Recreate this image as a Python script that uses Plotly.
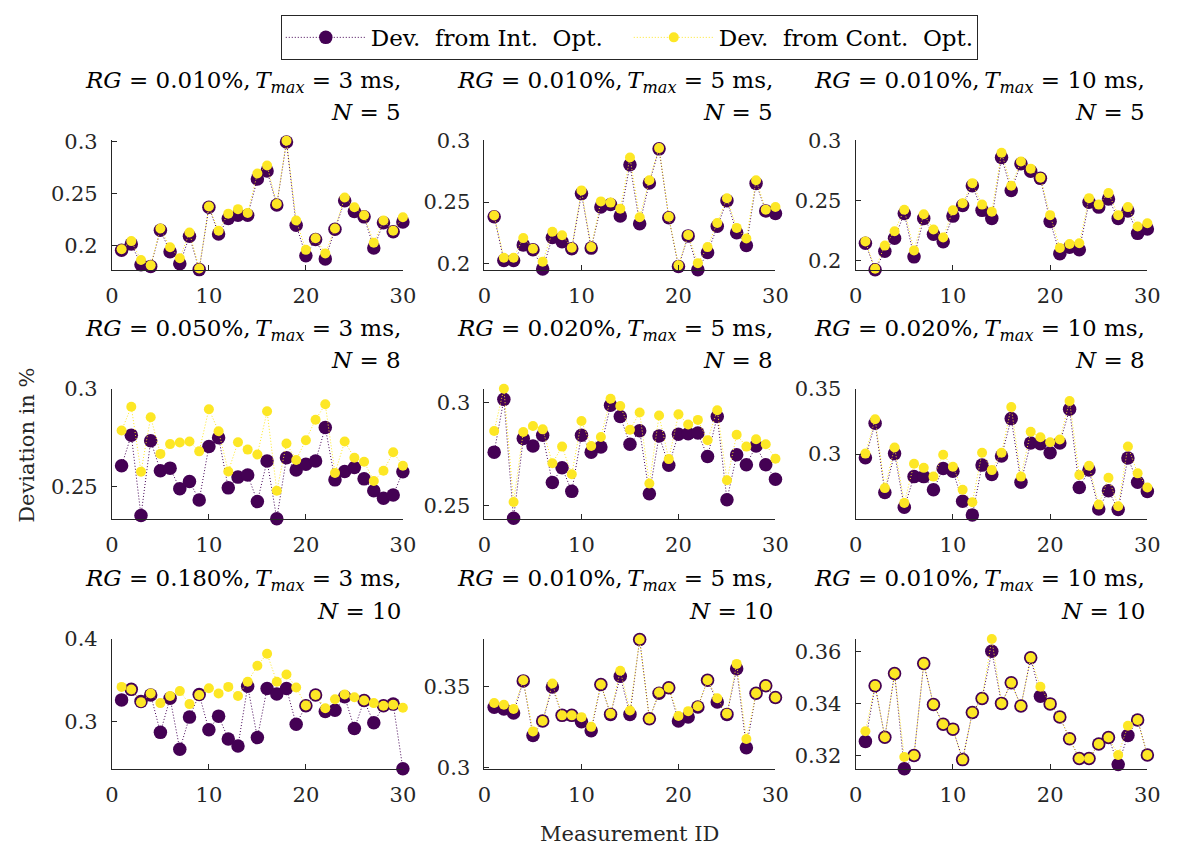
import plotly.graph_objects as go

W, H = 1181, 862

ids = list(range(1, 31))

# ---- data: deviation from integer optimum (Int) and continuous optimum (Cont) ----
int_1 = [0.196, 0.202, 0.182, 0.1804, 0.2152, 0.1944, 0.1829, 0.2093, 0.1773, 0.2373,
         0.2115, 0.2264, 0.2295, 0.2295, 0.2643, 0.272, 0.2394, 0.300, 0.2199, 0.1907,
         0.2062, 0.1876, 0.2161, 0.2435, 0.2332, 0.228, 0.1981, 0.2224, 0.2137, 0.223]
cont_1 = [0.1969, 0.2047, 0.1866, 0.1814, 0.2168, 0.1988, 0.1882, 0.213, 0.1783, 0.2379,
          0.2146, 0.2311, 0.2354, 0.2317, 0.2696, 0.2773, 0.2404, 0.3012, 0.2245, 0.1963,
          0.2075, 0.1929, 0.2168, 0.2466, 0.2373, 0.2295, 0.2031, 0.2245, 0.2146, 0.2276]

int_2 = [0.2382, 0.2026, 0.2026, 0.2153, 0.2114, 0.1958, 0.2213, 0.2179, 0.2122, 0.2569,
         0.2127, 0.246, 0.2481, 0.2387, 0.2803, 0.2325, 0.2655, 0.2932, 0.2374, 0.1977,
         0.2226, 0.1951, 0.2091, 0.2304, 0.2512, 0.2252, 0.2148, 0.2652, 0.2429, 0.2408]
cont_2 = [0.2392, 0.2049, 0.2049, 0.2208, 0.2122, 0.2016, 0.226, 0.2231, 0.213, 0.2595,
          0.2135, 0.2506, 0.2496, 0.2447, 0.2862, 0.2377, 0.2678, 0.2938, 0.2382, 0.1987,
          0.2234, 0.2005, 0.2135, 0.233, 0.2532, 0.2291, 0.2205, 0.2678, 0.2439, 0.246]

int_3 = [0.2142, 0.1922, 0.2075, 0.2184, 0.239, 0.2029, 0.235, 0.2217, 0.2155, 0.2369,
         0.2457, 0.2623, 0.2417, 0.235, 0.2858, 0.2583, 0.2805, 0.2743, 0.2684, 0.2324,
         0.2056, 0.211, 0.2088, 0.2484, 0.2444, 0.2511, 0.235, 0.2412, 0.2225, 0.2262]
cont_3 = [0.2158, 0.193, 0.2123, 0.2243, 0.2422, 0.2083, 0.2385, 0.2257, 0.219, 0.2417,
          0.2476, 0.2644, 0.2465, 0.2406, 0.2898, 0.2623, 0.2824, 0.2765, 0.269, 0.2377,
          0.2104, 0.2136, 0.2142, 0.2519, 0.2465, 0.2561, 0.2377, 0.2444, 0.2283, 0.231]

int_4 = [0.2605, 0.2762, 0.235, 0.2733, 0.258, 0.2593, 0.2488, 0.2525, 0.243, 0.2704,
         0.2749, 0.2492, 0.2547, 0.2558, 0.2422, 0.263, 0.2334, 0.2646, 0.2583, 0.2613,
         0.263, 0.2801, 0.2533, 0.2576, 0.2596, 0.2538, 0.2477, 0.2439, 0.2455, 0.2575]
cont_4 = [0.2786, 0.2907, 0.2575, 0.2854, 0.2666, 0.2716, 0.2724, 0.2729, 0.2679, 0.2895,
          0.2782, 0.2576, 0.2726, 0.2688, 0.2663, 0.2884, 0.2477, 0.2719, 0.2635, 0.2736,
          0.2841, 0.292, 0.2568, 0.2729, 0.2646, 0.2626, 0.2527, 0.258, 0.2674, 0.2605]

int_5 = [0.2759, 0.3016, 0.2437, 0.2825, 0.2789, 0.2841, 0.2611, 0.2683, 0.2568, 0.2841,
         0.2759, 0.2784, 0.2987, 0.2933, 0.2797, 0.2863, 0.2556, 0.2838, 0.2695, 0.2846,
         0.2849, 0.2852, 0.2738, 0.2933, 0.2527, 0.2746, 0.2698, 0.2789, 0.2698, 0.2627]
cont_5 = [0.2862, 0.3068, 0.2516, 0.2857, 0.2886, 0.287, 0.2705, 0.2786, 0.2651, 0.2911,
          0.2789, 0.2833, 0.3019, 0.2984, 0.2868, 0.2952, 0.2606, 0.2937, 0.2725, 0.2943,
          0.2894, 0.2916, 0.2817, 0.2963, 0.2622, 0.2844, 0.2786, 0.2822, 0.2797, 0.2727]

int_6 = [0.2972, 0.3236, 0.2706, 0.3003, 0.2593, 0.2827, 0.2827, 0.2726, 0.2889, 0.2869,
         0.2638, 0.2533, 0.2915, 0.2844, 0.2985, 0.3271, 0.2784, 0.3085, 0.3078, 0.301,
         0.3085, 0.3342, 0.2744, 0.2877, 0.258, 0.2719, 0.2575, 0.297, 0.2784, 0.2714]
cont_6 = [0.3003, 0.3266, 0.2739, 0.305, 0.2626, 0.2925, 0.2894, 0.2827, 0.2995, 0.2902,
          0.2726, 0.2631, 0.301, 0.2877, 0.301, 0.3359, 0.2827, 0.3171, 0.3128, 0.309,
          0.3111, 0.3405, 0.2839, 0.291, 0.2613, 0.2819, 0.26, 0.3058, 0.2852, 0.2744]

int_7 = [0.3263, 0.339, 0.3245, 0.3322, 0.2871, 0.3282, 0.2667, 0.3055, 0.3329, 0.2902,
         0.3067, 0.2792, 0.2706, 0.3427, 0.2808, 0.340, 0.3333, 0.340, 0.2969, 0.3192,
         0.3322, 0.3122, 0.3137, 0.3302, 0.2918, 0.3255, 0.2988, 0.3192, 0.3212, 0.2431]
cont_7 = [0.342, 0.3388, 0.3235, 0.3341, 0.3224, 0.331, 0.3369, 0.3212, 0.3322, 0.3404,
          0.3341, 0.342, 0.331, 0.3482, 0.3675, 0.382, 0.3482, 0.3569, 0.3412, 0.3196,
          0.3322, 0.3161, 0.3271, 0.3329, 0.3294, 0.3255, 0.3224, 0.3192, 0.3204, 0.3169]

int_8 = [0.3373, 0.3363, 0.3337, 0.3536, 0.3198, 0.3288, 0.3498, 0.3323, 0.3323, 0.3284,
         0.3228, 0.3514, 0.3329, 0.3565, 0.3329, 0.3792, 0.3302, 0.346, 0.3494, 0.3288,
         0.3313, 0.3375, 0.354, 0.3405, 0.3329, 0.3611, 0.3123, 0.346, 0.3506, 0.3433]
cont_8 = [0.3399, 0.3389, 0.3363, 0.354, 0.3224, 0.3288, 0.352, 0.3323, 0.3323, 0.3312,
          0.3252, 0.3514, 0.3333, 0.3599, 0.3353, 0.3792, 0.3302, 0.3464, 0.3494, 0.3319,
          0.3349, 0.3379, 0.354, 0.3429, 0.3333, 0.3641, 0.3177, 0.346, 0.3506, 0.3433]

int_9 = [0.3254, 0.3468, 0.327, 0.3515, 0.3149, 0.320, 0.3553, 0.3396, 0.332, 0.3301,
         0.3184, 0.3365, 0.3419, 0.360, 0.340, 0.3479, 0.339, 0.3575, 0.3427, 0.3398,
         0.3348, 0.3264, 0.3188, 0.3188, 0.3244, 0.3269, 0.3165, 0.3277, 0.3336, 0.3202]
cont_9 = [0.3293, 0.3468, 0.327, 0.3515, 0.3194, 0.320, 0.3553, 0.3396, 0.332, 0.3301,
          0.3184, 0.3365, 0.3419, 0.3647, 0.340, 0.3479, 0.339, 0.3575, 0.3464, 0.3398,
          0.3348, 0.3264, 0.3188, 0.3188, 0.3244, 0.3269, 0.3202, 0.3314, 0.3336, 0.3202]

int_series = [int_1, int_2, int_3, int_4, int_5, int_6, int_7, int_8, int_9]
cont_series = [cont_1, cont_2, cont_3, cont_4, cont_5, cont_6, cont_7, cont_8, cont_9]

rg_labels = ["0.010", "0.010", "0.010", "0.050", "0.020", "0.020", "0.180", "0.010", "0.010"]
tmax_labels = ["3", "5", "10", "3", "5", "10", "3", "5", "10"]
n_labels = ["5", "5", "5", "8", "8", "8", "10", "10", "10"]

y_tickvals = [[0.2, 0.25, 0.3], [0.2, 0.25, 0.3], [0.2, 0.25, 0.3],
              [0.25, 0.3], [0.25, 0.3], [0.25, 0.3, 0.35],
              [0.3, 0.4], [0.3, 0.35], [0.32, 0.34, 0.36]]
y_ticktext = [["0.2", "0.25", "0.3"], ["0.2", "0.25", "0.3"], ["0.2", "0.25", "0.3"],
              ["0.25", "0.3"], ["0.25", "0.3"], ["0.25", "0.3", "0.35"],
              ["0.3", "0.4"], ["0.3", "0.35"], ["0.32", "0.34", "0.36"]]
y_ranges = [[0.1770, 0.3014], [0.1950, 0.3], [0.1920, 0.3],
            [0.2332, 0.3], [0.2433, 0.3068], [0.2502, 0.35],
            [0.2426, 0.4], [0.2990, 0.3796], [0.3147, 0.3648]]
x_tickvals = [0, 10, 20, 30]

legend_names = ["Dev.&nbsp; from Int.&nbsp; Opt.", "Dev.&nbsp; from Cont.&nbsp; Opt."]

# ---- styling ----
PURPLE = "#440154"
YELLOW = "#FDE725"
AXC = "#262626"
FONT = "DejaVu Serif"

col_px = [(106.7, 402.7), (485.7, 781.7), (863.3, 1160.0)]
row_px = [(132.0, 265.0), (387.0, 521.0), (644.0, 778.0)]

fig = go.Figure()

for k in range(9):
    r, c = divmod(k, 3)
    xa = "x" if k == 0 else f"x{k+1}"
    ya = "y" if k == 0 else f"y{k+1}"
    fig.add_trace(go.Scatter(
        x=ids, y=int_series[k], mode="lines+markers", xaxis=xa, yaxis=ya,
        name=legend_names[0], legendgroup="int", showlegend=(k == 0),
        line=dict(color=PURPLE, width=1, dash="1px,2px"),
        marker=dict(color=PURPLE, size=13.5, line=dict(width=0)),
        cliponaxis=False))
    fig.add_trace(go.Scatter(
        x=ids, y=cont_series[k], mode="lines+markers", xaxis=xa, yaxis=ya,
        name=legend_names[1], legendgroup="cont", showlegend=(k == 0),
        line=dict(color=YELLOW, width=1, dash="1px,2px"),
        marker=dict(color=YELLOW, size=10, line=dict(width=0)),
        cliponaxis=False))

    x0, x1 = col_px[c]
    y0, y1 = row_px[r]
    axis_common = dict(showline=True, linecolor=AXC, linewidth=1, ticks="inside",
                       ticklen=5, tickcolor=AXC, showgrid=False, zeroline=False,
                       tickfont=dict(family=FONT, size=21, color=AXC))
    fig.layout[("xaxis" if k == 0 else f"xaxis{k+1}")] = dict(
        domain=[x0 / W, x1 / W], anchor=ya, range=[0, 30],
        tickvals=x_tickvals, ticktext=[str(v) for v in x_tickvals],
        ticklabelstandoff=7, **axis_common)
    fig.layout[("yaxis" if k == 0 else f"yaxis{k+1}")] = dict(
        domain=[1 - y1 / H, 1 - y0 / H], anchor=xa, range=y_ranges[k],
        tickvals=y_tickvals[k], ticktext=y_ticktext[k], ticklabelstandoff=9,
        **axis_common)

    line1 = (f"<i>RG</i> = {rg_labels[k]}%,&#8201;<i>T</i><sub><i>max</i></sub> = "
             f"{tmax_labels[k]} ms,")
    line2 = f"<i>N</i> = {n_labels[k]}"
    fig.add_annotation(x=x1 / W, y=1 - (y0 - 60) / H, xref="paper", yref="paper",
                       xanchor="right", yanchor="middle", text=line1, showarrow=False,
                       font=dict(family=FONT, size=23, color="black"))
    fig.add_annotation(x=x1 / W, y=1 - (y0 - 29) / H, xref="paper", yref="paper",
                       xanchor="right", yanchor="middle", text=line2, showarrow=False,
                       font=dict(family=FONT, size=23, color="black"))

fig.add_annotation(x=20 / W, y=1 - 445 / H, xref="paper", yref="paper",
                   text="Deviation in %", textangle=-90, showarrow=False,
                   xanchor="center", yanchor="middle",
                   font=dict(family=FONT, size=21, color=AXC))
fig.add_annotation(x=633 / W, y=1 - 845 / H, xref="paper", yref="paper",
                   text="Measurement ID", showarrow=False,
                   xanchor="center", yanchor="middle",
                   font=dict(family=FONT, size=21, color=AXC))

fig.update_layout(
    width=W, height=H, margin=dict(l=0, r=0, t=0, b=0),
    paper_bgcolor="white", plot_bgcolor="white",
    showlegend=True,
    legend=dict(orientation="h", x=633 / W, xanchor="center", y=1 - 3 / H,
                yanchor="top", bordercolor=AXC, borderwidth=1, bgcolor="white",
                font=dict(family=FONT, size=23, color="black"),
                itemwidth=80, entrywidth=253, entrywidthmode="pixels",
                tracegroupgap=0),
)

fig.write_html("out.html")
